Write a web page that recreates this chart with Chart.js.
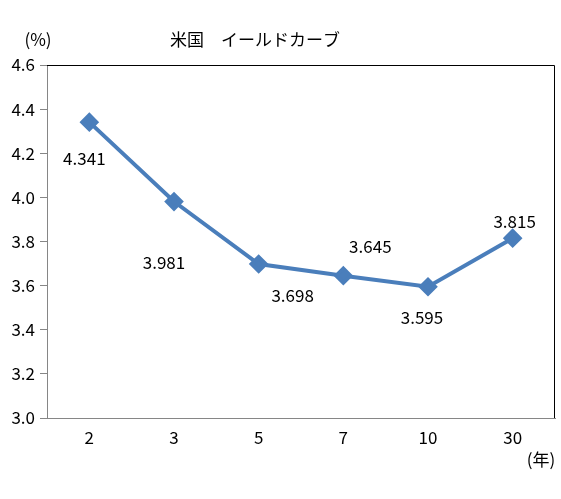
<!DOCTYPE html>
<html>
<head>
<meta charset="utf-8">
<script src="https://cdn.jsdelivr.net/npm/chart.js@4/dist/chart.umd.min.js"></script>
<style>
  html, body { margin: 0; padding: 0; background: #fff; overflow: hidden; }
  #wrap { width: 566px; height: 499px; }
</style>
</head>
<body>
<div id="wrap"><canvas id="myChart"></canvas></div>
<script>
const years = ["2", "3", "5", "7", "10", "30"];
const yields = [4.341, 3.981, 3.698, 3.645, 3.595, 3.815];
const yTicks = [3.0, 3.2, 3.4, 3.6, 3.8, 4.0, 4.2, 4.4, 4.6];

const FONT = "'Noto Sans CJK JP', 'Noto Sans', sans-serif";
const BLUE = "#4A7EBB";

// where each value label sits relative to its point (px)
const labelOffsets = [[-5, 36], [-10, 61], [34, 32], [27, -29], [-6, 31], [2, -17]];

const labelsPlugin = {
  id: "extras",
  afterDraw(chart) {
    const c = chart.ctx;
    const a = chart.chartArea;
    const x = chart.scales.x, y = chart.scales.y;
    c.save();
    // top / right frame
    c.strokeStyle = "#000";
    c.lineWidth = 1;
    c.beginPath();
    c.moveTo(a.left, a.top + 0.5);
    c.lineTo(a.right - 0.5, a.top + 0.5);
    c.lineTo(a.right - 0.5, a.bottom);
    c.stroke();

    c.fillStyle = "#000";
    c.font = "17px " + FONT;
    c.textAlign = "center";
    c.textBaseline = "middle";
    yields.forEach((v, i) => {
      const px = x.getPixelForValue(i) + labelOffsets[i][0];
      const py = y.getPixelForValue(v) + labelOffsets[i][1];
      c.fillText(v.toFixed(3), px, py);
    });

    c.fillText("米国　イールドカーブ", 255, 40);
    c.fillText("(%)", 38, 40);
    c.fillText("(年)", 541, 460);
    c.restore();
  }
};

new Chart(document.getElementById("myChart"), {
  type: "line",
  data: {
    labels: years,
    datasets: [
      {
        data: yields,
        borderColor: BLUE,
        backgroundColor: BLUE,
        borderWidth: 4,
        pointStyle: "rectRot",
        pointRadius: 7,
        pointHoverRadius: 7,
        tension: 0,
      },
    ],
  },
  options: {
    responsive: true,
    maintainAspectRatio: false,
    animation: false,
    layout: { padding: { top: 65, right: 0, left: 0, bottom: 0 } },
    plugins: { legend: { display: false }, tooltip: { enabled: false } },
    scales: {
      x: {
        offset: true,
        grid: { drawOnChartArea: false, drawTicks: true, tickLength: 9, color: "rgba(0,0,0,0)" },
        border: { color: "#868686", width: 1 },
        ticks: { color: "#000", font: { family: FONT, size: 17 }, padding: 0 },
        afterFit(s) { s.height = 81; },
      },
      y: {
        min: 3.0,
        max: 4.6,
        afterBuildTicks(s) { s.ticks = yTicks.map((v) => ({ value: v })); },
        grid: { drawOnChartArea: false, drawTicks: true, tickLength: 7, color: "#868686" },
        border: { color: "#868686", width: 1 },
        ticks: {
          color: "#000",
          font: { family: FONT, size: 17 },
          padding: 5,
          callback: (v) => v.toFixed(1),
        },
        afterFit(s) { s.width = 47; },
      },
    },
  },
  plugins: [labelsPlugin],
});
</script>
</body>
</html>
